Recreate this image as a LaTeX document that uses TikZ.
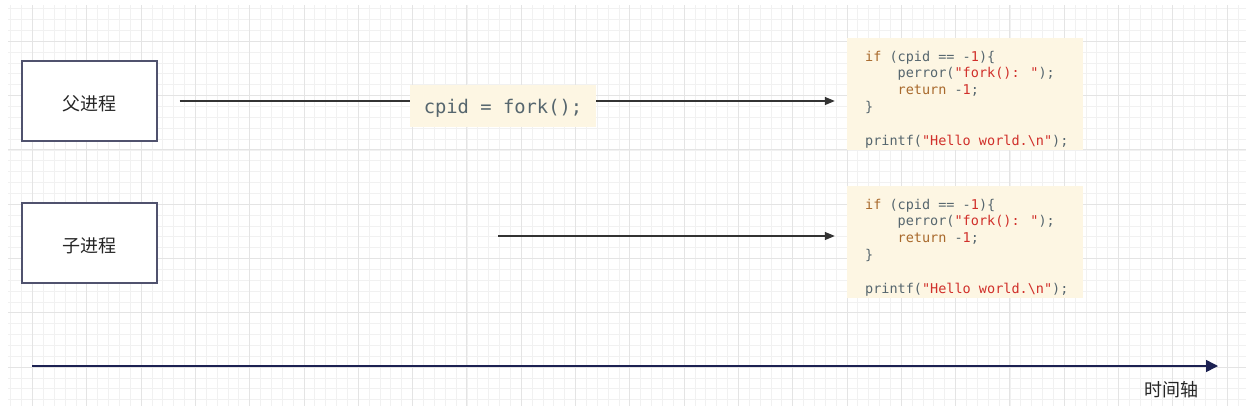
\documentclass[tikz,border=0pt]{standalone}
\usepackage{fontspec}
\usetikzlibrary{arrows.meta}
\newfontfamily\cjkfont{Noto Sans CJK SC}
\newfontfamily\codefont{DejaVu Sans Mono}
\definecolor{gridminor}{HTML}{F1F1F1}
\definecolor{gridmajor}{HTML}{E4E4E4}
\definecolor{boxborder}{HTML}{50526E}
\definecolor{codebg}{HTML}{FDF6E3}
\definecolor{codegray}{HTML}{56666E}
\definecolor{kw}{HTML}{A8692C}
\definecolor{strc}{HTML}{D02F2A}
\definecolor{linec}{HTML}{333333}
\definecolor{axisc}{HTML}{1C2152}
\newcommand{\lowerby}[2]{\raisebox{-#1}[\height][\depth]{#2}}
\tikzset{
  procbox/.style={draw=boxborder, line width=1.2pt, fill=white, minimum width=135pt, minimum height=80pt, inner sep=0pt, font=\cjkfont\fontsize{18}{20}\selectfont, text=black!85},
  codebox/.style={fill=codebg, minimum width=236pt, minimum height=112pt, inner sep=0pt},
  codeline/.style={anchor=base west, inner sep=0pt, font=\codefont\fontsize{13.5}{16}\selectfont, text=codegray},
  conn/.style={draw=linec, line width=1.2pt, -{Triangle[length=10pt,width=8pt]}},
  axisline/.style={draw=axisc, line width=1.5pt, -{Triangle[length=12pt,width=12pt]}},
}
\begin{document}
\begin{tikzpicture}[x=1pt,y=-1pt]
\useasboundingbox (0,0) rectangle (1246,410);
\fill[white] (0,0) rectangle (1246,410);
% grid
\begin{scope}
\clip (8,5) rectangle (1246,405);
\foreach \i in {-3,...,112} {
  \draw[gridminor, line width=0.8pt] ({32.5+\i*10.86},0) -- ({32.5+\i*10.86},410);
}
\foreach \j in {-4,...,34} {
  \draw[gridminor, line width=0.8pt] (0,{41.3+\j*10.86}) -- (1246,{41.3+\j*10.86});
}
\foreach \i in {0,...,22} {
  \draw[gridmajor, line width=1pt] ({32.5+\i*54.3},0) -- ({32.5+\i*54.3},410);
}
\foreach \j in {-1,...,7} {
  \draw[gridmajor, line width=1pt] (0,{41.3+\j*54.3}) -- (1246,{41.3+\j*54.3});
}
\end{scope}
% process boxes
\node[procbox] (p1) at (89.5,101) {\lowerby{2.5pt}{父进程}};
\node[procbox] (p2) at (89.5,243) {\lowerby{2.5pt}{子进程}};
% code boxes
\node[codebox] (c1) at (965,94) {};
\node[codebox] (c2) at (965,242) {};
% connectors
\draw[conn, shorten <=22pt, shorten >=12pt] (p1.east) -- (c1.west |- p1.east);
\coordinate (s2) at (498,236);
\draw[conn, shorten >=12pt] (s2) -- (c2.west |- s2);
\node[fill=codebg, minimum width=186pt, minimum height=42pt, inner sep=0pt, font=\codefont\fontsize{18.8}{22}\selectfont, text=codegray] (fk) at (503,106) {\lowerby{2pt}{cpid = fork();}};
% code text 1
\node[codeline] (a1) at (865,61) {\textcolor{kw}{if} (cpid == -\textcolor{strc}{1})\{};
\node[codeline] (a2) at (865,77.8) {\hphantom{0000}perror(\textcolor{strc}{"fork(): "});};
\node[codeline] (a3) at (865,94.6) {\hphantom{0000}\textcolor{kw}{return} -\textcolor{strc}{1};};
\node[codeline] (a4) at (865,111.4) {\}};
\node[codeline] (a6) at (865,145) {printf(\textcolor{strc}{"Hello world.\textbackslash n"});};
% code text 2
\node[codeline] (b1) at (865,209) {\textcolor{kw}{if} (cpid == -\textcolor{strc}{1})\{};
\node[codeline] (b2) at (865,225.8) {\hphantom{0000}perror(\textcolor{strc}{"fork(): "});};
\node[codeline] (b3) at (865,242.6) {\hphantom{0000}\textcolor{kw}{return} -\textcolor{strc}{1};};
\node[codeline] (b4) at (865,259.4) {\}};
\node[codeline] (b6) at (865,293) {printf(\textcolor{strc}{"Hello world.\textbackslash n"});};
% time axis
\coordinate (ax0) at (32,366);
\coordinate (ax1) at (1218,366);
\draw[axisline] (ax0) -- (ax1);
\node[font=\cjkfont\fontsize{18}{20}\selectfont, text=black!85] (tl) at (1171,390) {时间轴};
\end{tikzpicture}
\end{document}
